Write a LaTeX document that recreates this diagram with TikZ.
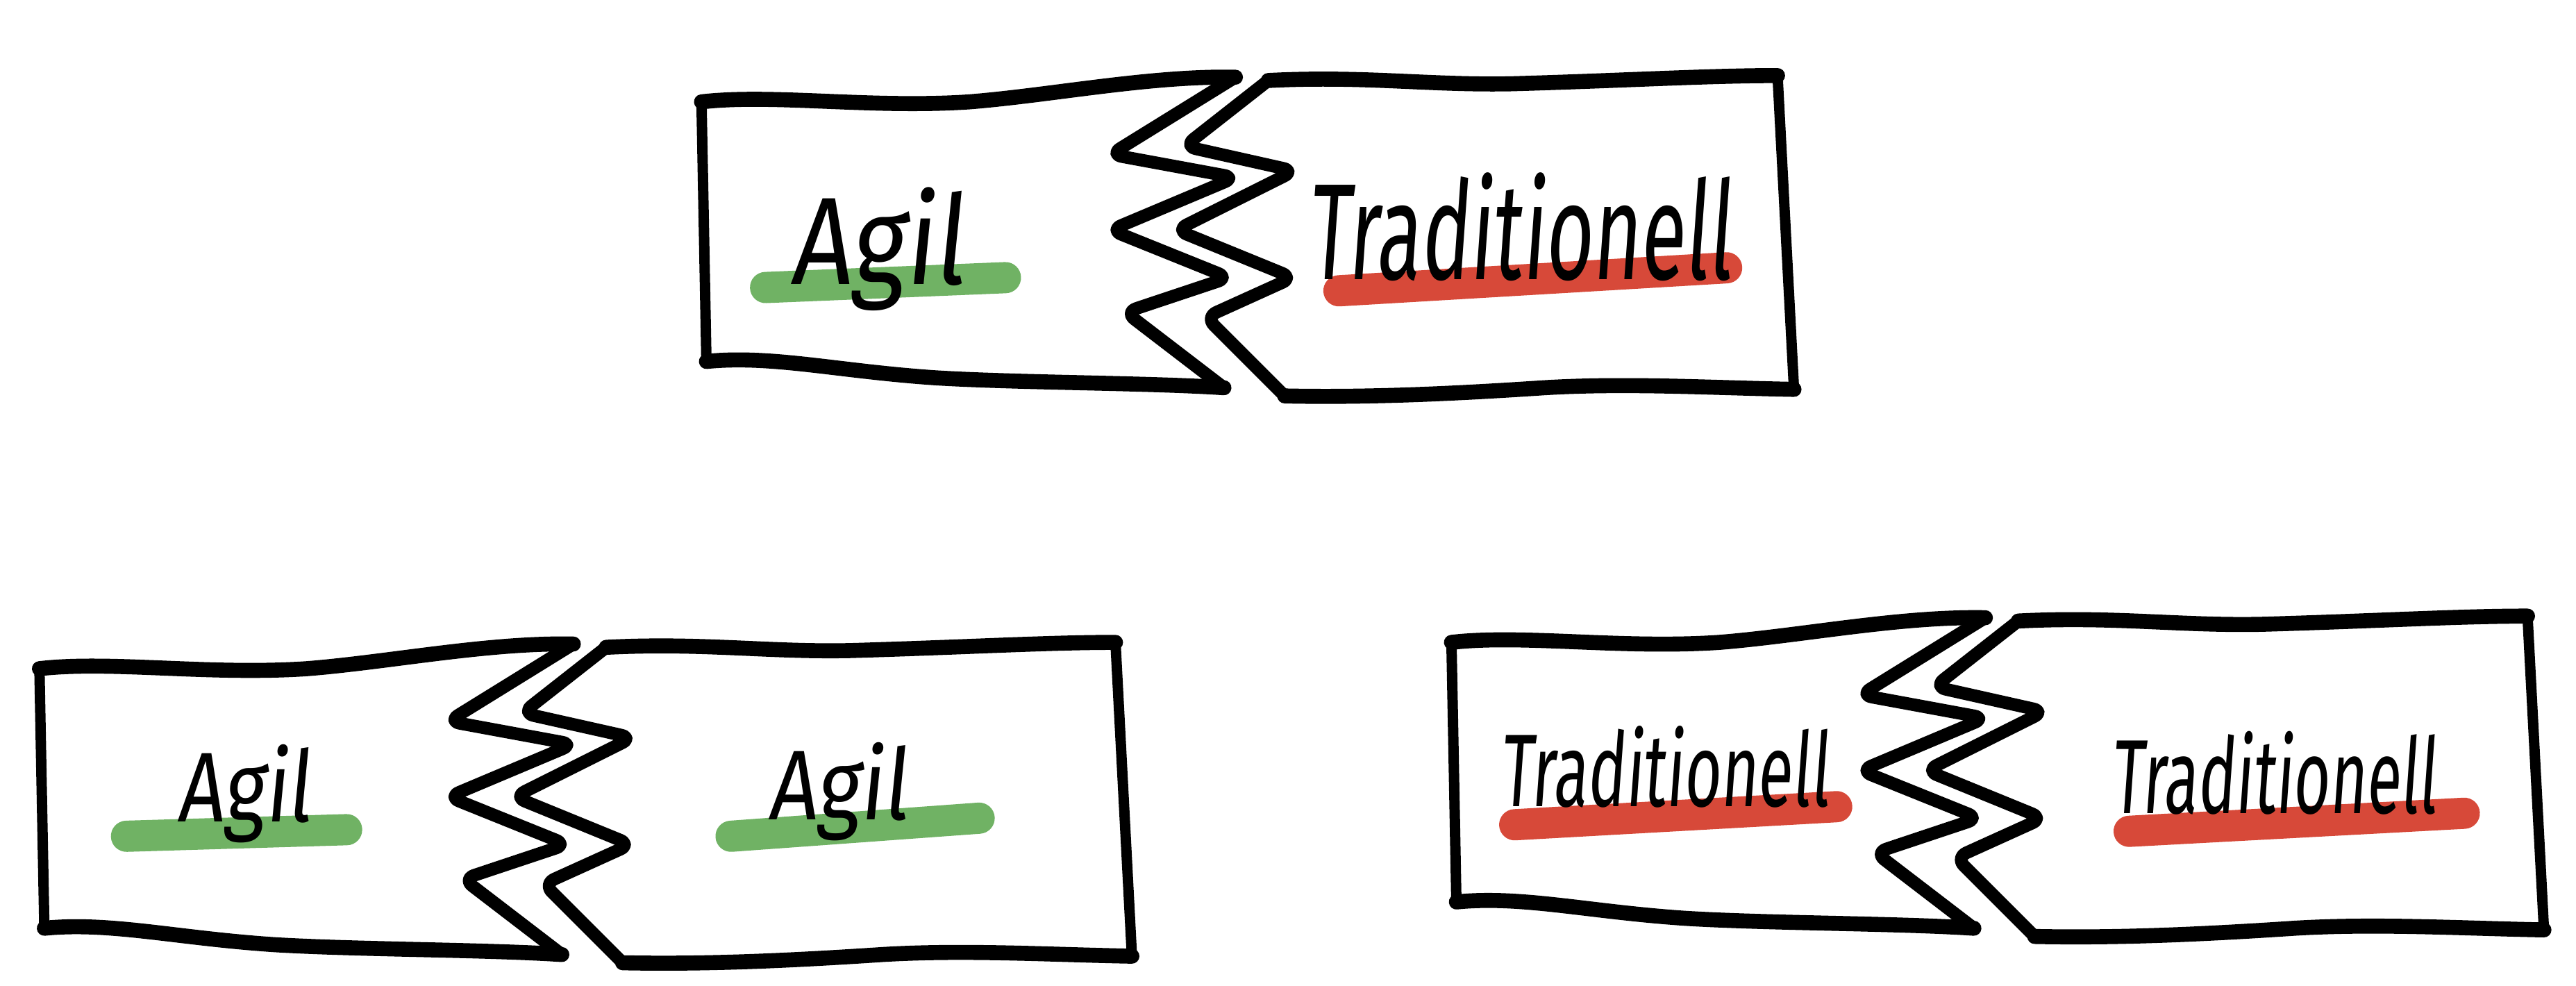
\documentclass[tikz,border=0pt]{standalone}
\usepackage{fontspec}
\newfontfamily\handfont[FakeSlant=0.12]{Fira Sans}
\definecolor{agilgreen}{RGB}{112,178,100}
\definecolor{tradred}{RGB}{215,73,57}

\begin{document}
\begin{tikzpicture}[
        x=0.01cm, y=-0.01cm,
        edge/.style = {line width=2.6pt, line cap=round, line join=round},
        side/.style = {line width=1.8pt, line cap=round, line join=round},
        tear/.style = {line width=2.2pt, line cap=round, line join=round, rounded corners=2pt},
        hl/.style = {draw=#1, line width=5.4pt, line cap=round},
        word/.style = {font=\handfont, inner sep=0pt, anchor=base},
        torn pair/.pic = {
            % left half
            \draw[edge] (427,62) .. controls (470,57) and (530,66) .. (590,62) .. controls (640,58) and (700,46) .. (752,47);
            \draw[tear] (752,47) -- (676,94) -- (752,108) -- (676,140) -- (748,169) -- (685,190) -- (745,236);
            \draw[edge] (745,236) .. controls (700,233) and (620,233) .. (570,230) .. controls (510,226) and (470,216) .. (430,220);
            \draw[side] (430,220) -- (427,62);
            % right half
            \draw[edge] (772,49) .. controls (830,46) and (870,52) .. (920,51) .. controls (990,49) and (1040,46) .. (1082,46);
            \draw[side] (1082,46) -- (1092,237);
            \draw[edge] (1092,237) .. controls (1040,236) and (990,233) .. (940,236) .. controls (880,240) and (830,242) .. (782,241);
            \draw[tear] (782,241) -- (734,193) -- (787,169) -- (716,140) -- (788,104) -- (721,89) -- (772,49);
        },
        ]
        \useasboundingbox (0,0) rectangle (1568,600);

        \pic at (0,0) {torn pair};
        \pic at (-403,345) {torn pair};
        \pic at (456.5,329) {torn pair};

        % top
        \draw[hl=agilgreen] (466,175) -- (612,169);
        \node[word] (agilTop) at (534,173) {\resizebox{1.06cm}{0.59cm}{Agil}};
        \draw[hl=tradred] (815,177) -- (1051,163);
        \node[word] (tradTop) at (925,170) {\resizebox{2.58cm}{0.65cm}{Traditionell}};

        % bottom left
        \draw[hl=agilgreen] (77,509) -- (211,505);
        \node[word] (agilLeft) at (148.5,500) {\resizebox{0.81cm}{0.47cm}{Agil}};
        \draw[hl=agilgreen] (445,509) -- (596,498);
        \node[word] (agilRight) at (510,499) {\resizebox{0.85cm}{0.47cm}{Agil}};

        % bottom right
        \draw[hl=tradred] (922,502) -- (1118,491);
        \node[word] (tradLeft) at (1013,491) {\resizebox{2.0cm}{0.49cm}{Traditionell}};
        \draw[hl=tradred] (1296,506) -- (1500,495);
        \node[word] (tradRight) at (1384,495) {\resizebox{1.98cm}{0.5cm}{Traditionell}};
\end{tikzpicture}
\end{document}
